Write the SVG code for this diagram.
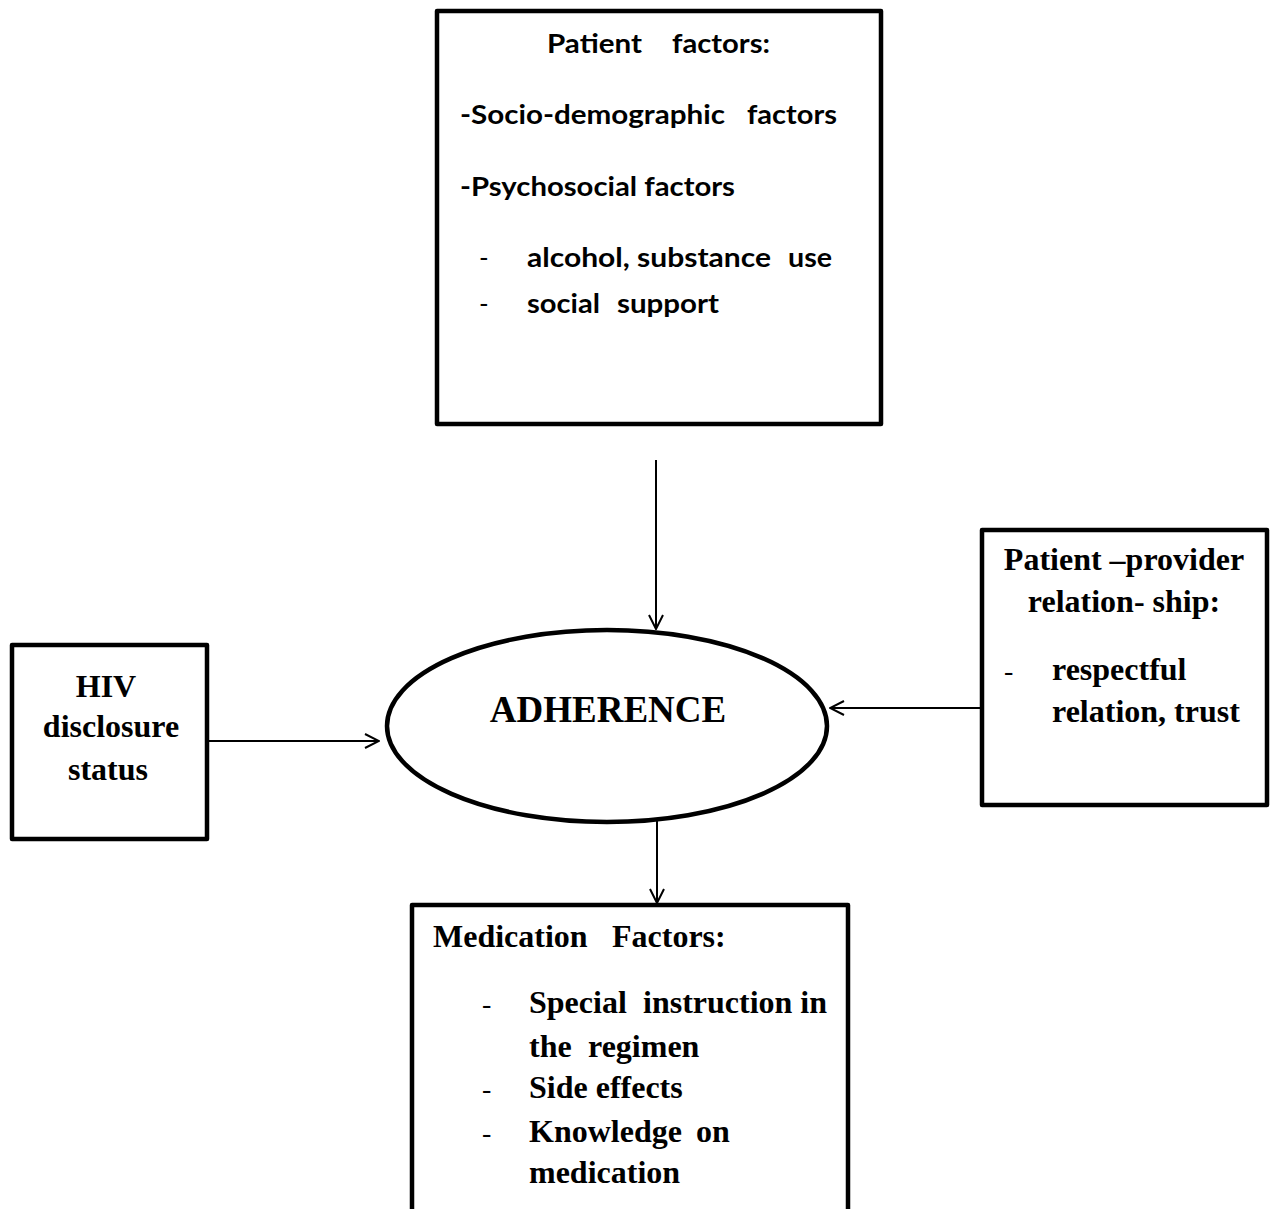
<svg xmlns="http://www.w3.org/2000/svg" width="1271" height="1209" viewBox="0 0 1271 1209">
<style>
.box{fill:#fff;stroke:#000;stroke-width:4.5;stroke-linejoin:round}
.sans{font-family:Lato,"Open Sans","Liberation Sans",sans-serif;font-weight:bold;font-size:26px;fill:#000}
.serif{font-family:"Liberation Serif","Times New Roman",serif;font-weight:bold;font-size:32px;fill:#000}
.dash{font-family:"Liberation Serif",serif;font-weight:normal;font-size:28px;fill:#000}
.dashs{font-family:Lato,"Liberation Sans",sans-serif;font-weight:normal;font-size:26px;fill:#000}
.conn{stroke:#000;stroke-width:2;fill:none}
</style>
<defs>
<marker id="arr" viewBox="0 0 16 16" refX="15" refY="8" markerWidth="16" markerHeight="16" markerUnits="userSpaceOnUse" orient="auto">
<path d="M1,1 L15,8 L1,15" fill="none" stroke="#000" stroke-width="2"/>
</marker>
</defs>
<rect width="1271" height="1209" fill="#fff"/>
<g id="connectors">
<line class="conn" x1="656" y1="460" x2="656" y2="629" marker-end="url(#arr)"/>
<line class="conn" x1="657" y1="820" x2="657" y2="903" marker-end="url(#arr)"/>
<line class="conn" x1="207" y1="741" x2="379" y2="741" marker-end="url(#arr)"/>
<line class="conn" x1="985" y1="708" x2="830" y2="708" marker-end="url(#arr)"/>
</g>
<g id="patient-factors">
<rect class="box" x="437" y="11" width="444" height="413"/>
<text class="sans" x="547" y="53" textLength="95" lengthAdjust="spacingAndGlyphs">Patient</text>
<text class="sans" x="672" y="53" textLength="98" lengthAdjust="spacingAndGlyphs">factors:</text>
<text class="sans" x="460" y="124" textLength="265" lengthAdjust="spacingAndGlyphs">-Socio-demographic</text>
<text class="sans" x="747" y="124" textLength="90" lengthAdjust="spacingAndGlyphs">factors</text>
<text class="sans" x="460" y="196" textLength="275" lengthAdjust="spacingAndGlyphs">-Psychosocial factors</text>
<text class="dashs" x="479" y="267">-</text>
<text class="sans" x="527" y="267" textLength="244" lengthAdjust="spacingAndGlyphs">alcohol, substance</text>
<text class="sans" x="788" y="267" textLength="44" lengthAdjust="spacingAndGlyphs">use</text>
<text class="dashs" x="479" y="313">-</text>
<text class="sans" x="527" y="313" textLength="73" lengthAdjust="spacingAndGlyphs">social</text>
<text class="sans" x="617" y="313" textLength="102" lengthAdjust="spacingAndGlyphs">support</text>
</g>
<g id="adherence">
<ellipse cx="607" cy="726" rx="220" ry="96" fill="#fff" stroke="#000" stroke-width="4.5"/>
<text class="serif" x="608" y="722" text-anchor="middle" style="font-size:37px">ADHERENCE</text>
</g>
<g id="hiv-disclosure">
<rect class="box" x="12" y="645" width="195" height="194"/>
<text class="serif" x="106" y="697" text-anchor="middle">HIV</text>
<text class="serif" x="111" y="737" text-anchor="middle">disclosure</text>
<text class="serif" x="108" y="780" text-anchor="middle">status</text>
</g>
<g id="patient-provider">
<rect class="box" x="982" y="530" width="285" height="275"/>
<text class="serif" x="1124" y="570" text-anchor="middle">Patient –provider</text>
<text class="serif" x="1124" y="612" text-anchor="middle">relation- ship:</text>
<text class="dash" x="1004" y="680">-</text>
<text class="serif" x="1052" y="680">respectful</text>
<text class="serif" x="1052" y="722">relation, trust</text>
</g>
<g id="medication-factors">
<rect class="box" x="412" y="905" width="436" height="320"/>
<text class="serif" x="433" y="947">Medication</text>
<text class="serif" x="612" y="947">Factors:</text>
<text class="dash" x="482" y="1013">-</text>
<text class="serif" x="529" y="1013">Special</text>
<text class="serif" x="643" y="1013">instruction in</text>
<text class="serif" x="529" y="1057">the</text>
<text class="serif" x="588" y="1057">regimen</text>
<text class="dash" x="482" y="1098">-</text>
<text class="serif" x="529" y="1098">Side effects</text>
<text class="dash" x="482" y="1142">-</text>
<text class="serif" x="529" y="1142">Knowledge</text>
<text class="serif" x="696" y="1142">on</text>
<text class="serif" x="529" y="1183">medication</text>
</g>
</svg>
